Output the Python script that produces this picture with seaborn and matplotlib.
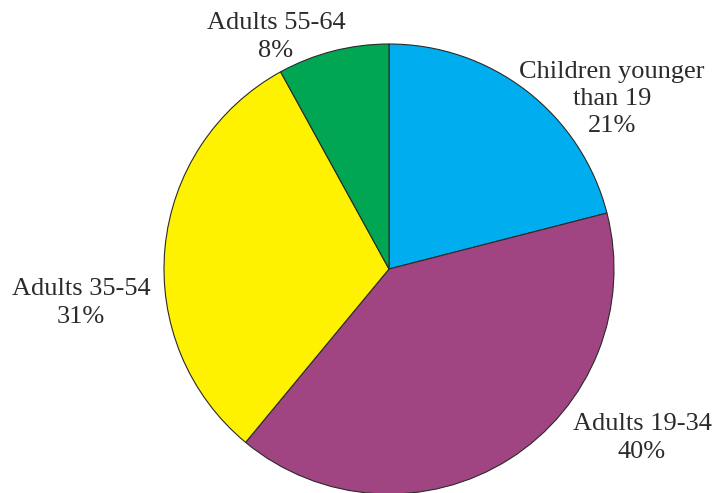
import matplotlib
matplotlib.use("Agg")
import matplotlib.pyplot as plt
import seaborn as sns

categories = ["Children younger\nthan 19", "Adults 19-34", "Adults 35-54", "Adults 55-64"]
shares = [21, 40, 31, 8]
colors = ["#00AEEF", "#A14482", "#FFF200", "#00A651"]

sns.set_theme(style="white")
plt.rcParams["font.family"] = ["Liberation Serif", "DejaVu Serif"]

fig = plt.figure(figsize=(7.16, 4.93), dpi=100)
W, H = 716, 493
cx, cy, r = 389, 269, 225
ax = fig.add_axes([(cx - r) / W, (H - cy - r) / H, 2 * r / W, 2 * r / H])
ax.pie(shares, colors=colors, startangle=90, counterclock=False, radius=1,
       wedgeprops=dict(edgecolor="#2a2a2a", linewidth=0.8))
ax.set_xlim(-1, 1)
ax.set_ylim(-1, 1)
ax.set_aspect("equal")
ax.axis("off")

label_px = [(612, 99), (642, 438), (81, 303), (276, 37)]
for cat, s, (px, py) in zip(categories, shares, label_px):
    fig.text(px / W, 1 - py / H, f"{cat}\n{s}%", ha="center", va="center",
             fontsize=19, color="#2b2b2b", linespacing=1.32)

fig.savefig("out.png", dpi=100)
